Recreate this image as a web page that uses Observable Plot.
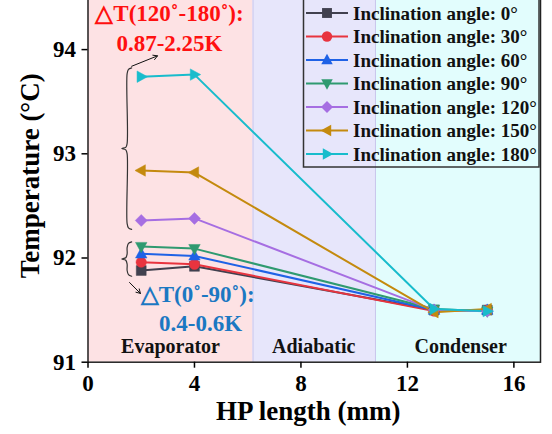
<!DOCTYPE html>
<html>
<head>
<meta charset="utf-8">
<script src="https://cdn.jsdelivr.net/npm/d3@7"></script>
<script src="https://cdn.jsdelivr.net/npm/@observablehq/plot@0.6"></script>
<style>
  html, body { margin: 0; padding: 0; background: #fff; }
  #chart svg { display: block; }
</style>
</head>
<body>
<div id="chart"></div>
<script>
// ---- data ----
const positions = [2, 4, 13, 15];
const angles = [0, 30, 60, 90, 120, 150, 180];
const temp0   = [91.88, 91.92, 91.50, 91.50];
const temp30  = [91.96, 91.94, 91.49, 91.50];
const temp60  = [92.04, 92.02, 91.50, 91.50];
const temp90  = [92.11, 92.09, 91.51, 91.49];
const temp120 = [92.36, 92.38, 91.50, 91.49];
const temp150 = [92.84, 92.82, 91.48, 91.51];
const temp180 = [93.74, 93.76, 91.51, 91.49];
const seriesValues = [temp0, temp30, temp60, temp90, temp120, temp150, temp180];
const seriesColors = ["#41414f", "#e8343f", "#1f62e6", "#2f9a70", "#a66ee2", "#c48a0e", "#18bccc"];
const seriesShapes = ["square", "circle", "up", "down", "diamond", "left", "right"];

const zoneNames = ["Evaporator", "Adiabatic", "Condenser"];
const zoneStart = [0, 6.2, 10.8];
const zoneEnd = [6.2, 10.8, 17];
const zoneFill = ["#fde2e4", "#e7e6fb", "#e2fdfd"];
const zoneLabelX = [3.1, 8.48, 14.0];

const xTicks = [0, 4, 8, 12, 16];
const yTicks = [91, 92, 93, 94];

// annotations (data units)
const noteRed = ["△T(120˚-180˚):", "0.87-2.25K"];
const noteRedX = [3.06, 3.06];
const noteRedY = [94.35, 94.06];
const noteBlue = ["△T(0˚-90˚):", "0.4-0.6K"];
const noteBlueX = [4.12, 4.23];
const noteBlueY = [91.645, 91.375];
const braceTop = [93.82, 92.15];
const braceBottom = [92.28, 91.83];
const arrowFrom = [[1.64, 93.84], [1.56, 91.765]];
const arrowTo = [[2.61, 93.94], [1.97, 91.66]];

// ---- symbols ----
function makeSymbol(kind) {
  return {
    draw(ctx, size) {
      const r = Math.sqrt(size / Math.PI);
      if (kind === "square") {
        const h = r * 0.95; ctx.rect(-h, -h, 2 * h, 2 * h);
      } else if (kind === "circle") {
        ctx.moveTo(r, 0); ctx.arc(0, 0, r, 0, 2 * Math.PI);
      } else if (kind === "diamond") {
        const h = r * 1.15;
        ctx.moveTo(0, -h); ctx.lineTo(h, 0); ctx.lineTo(0, h); ctx.lineTo(-h, 0); ctx.closePath();
      } else {
        const w = r * 1.1, hgt = r * 2.0;
        let pts = [[0, -hgt * 0.6], [w, hgt * 0.4], [-w, hgt * 0.4]]; // up
        const rot = { up: 0, down: Math.PI, left: -Math.PI / 2, right: Math.PI / 2 }[kind];
        pts = pts.map(([x, y]) => [x * Math.cos(rot) - y * Math.sin(rot), x * Math.sin(rot) + y * Math.cos(rot)]);
        ctx.moveTo(pts[0][0], pts[0][1]); ctx.lineTo(pts[1][0], pts[1][1]); ctx.lineTo(pts[2][0], pts[2][1]); ctx.closePath();
      }
    }
  };
}
const symbols = seriesShapes.map(makeSymbol);

// ---- tables ----
const zones = zoneNames.map((name, i) => ({name, x1: zoneStart[i], x2: zoneEnd[i], fill: zoneFill[i], lx: zoneLabelX[i]}));
const series = angles.map((a, i) => positions.map((x, j) => ({angle: a, x, y: seriesValues[i][j]})));

function bracePoints(x, y0, y1) {
  const spine = x, end = x + 0.17, tip = x - 0.2;
  const ym = (y0 + y1) / 2;
  const c = 0.05;
  const pts = [
    [end, y0 + 0.005], [spine + 0.05, y0 - 0.01], [spine, y0 - c],
    [spine, ym + c], [spine - 0.05, ym + 0.012], [tip, ym],
    [spine - 0.05, ym - 0.012], [spine, ym - c],
    [spine, y1 + c], [spine + 0.05, y1 + 0.01], [end, y1 - 0.005]
  ];
  return pts.map(([px, py]) => ({x: px, y: py}));
}
const braceX = 1.47;
const braces = braceTop.map((t, i) => bracePoints(braceX, t, braceBottom[i]));
const arrows = arrowFrom.map((f, i) => ({x1: f[0], y1: f[1], x2: arrowTo[i][0], y2: arrowTo[i][1]}));

const font = "'Liberation Serif', 'Times New Roman', serif";

const marks = [
  Plot.rect(zones, {x1: "x1", x2: "x2", y1: 91, y2: 94.5, fill: "fill"}),
  Plot.ruleX([6.2, 10.8], {stroke: "#c9c6ec", strokeWidth: 1}),
  ...braces.map(b => Plot.line(b, {x: "x", y: "y", stroke: "#333", strokeWidth: 1.2, curve: "catmull-rom"})),
  Plot.arrow(arrows, {x1: "x1", y1: "y1", x2: "x2", y2: "y2", stroke: "#111", strokeWidth: 1, headLength: 7, bend: 0}),
  ...series.map((s, i) => Plot.line(s, {x: "x", y: "y", stroke: seriesColors[i], strokeWidth: 2})),
  ...series.map((s, i) => Plot.dot(s, {x: "x", y: "y", r: 5.2, symbol: symbols[i], fill: seriesColors[i], stroke: seriesColors[i], strokeWidth: 0.5})),
  Plot.text(zones, {x: "lx", y: 91.15, text: "name", fontSize: 20, fontWeight: "bold", fill: "#111"}),
  Plot.text(noteRed, {x: (d, i) => noteRedX[i], y: (d, i) => noteRedY[i], text: d => d, fill: "#ff1010", fontSize: 23, fontWeight: "bold"}),
  Plot.text(noteBlue, {x: (d, i) => noteBlueX[i], y: (d, i) => noteBlueY[i], text: d => d, fill: "#1b78c2", fontSize: 23, fontWeight: "bold"}),
  Plot.frame({stroke: "#222", strokeWidth: 1.5}),
  Plot.axisX({ticks: xTicks, tickFormat: d => String(d), tickSize: 6, tickPadding: 6, label: null, fontSize: 23, fontWeight: "bold", strokeWidth: 1.5}),
  Plot.axisY({ticks: yTicks, tickFormat: d => String(d), tickSize: 6, tickPadding: 6, label: null, fontSize: 23, fontWeight: "bold", strokeWidth: 1.5}),
  Plot.text(["HP length (mm)"], {frameAnchor: "bottom", lineAnchor: "middle", textAnchor: "middle", dy: 49, dx: -6, text: d => d, fontSize: 27, fontWeight: "bold", fill: "#000"}),
  Plot.text(["Temperature (°C)"], {frameAnchor: "left", textAnchor: "middle", lineAnchor: "middle", dx: -58, dy: -4, rotate: -90, text: d => d, fontSize: 27, fontWeight: "bold", fill: "#000"})
];

const svg = Plot.plot({
  width: 552,
  height: 434,
  marginLeft: 87.5,
  marginRight: 12,
  marginTop: -3,
  marginBottom: 72.3,
  x: {domain: [0, 17]},
  y: {domain: [91, 94.5]},
  style: {fontFamily: font, color: "#000", background: "transparent", overflow: "hidden"},
  marks
});

// ---- legend ----
const root = d3.select(svg);
const leg = root.append("g").attr("font-family", font).attr("font-weight", "bold").attr("font-size", 19).attr("text-anchor", "start");
leg.append("rect").attr("x", 303.5).attr("y", -5).attr("width", 235.5).attr("height", 172)
  .attr("fill", "none").attr("stroke", "#333").attr("stroke-width", 1.5);
angles.forEach((a, i) => {
  const cy = 13 + i * 23.5;
  leg.append("line").attr("x1", 306).attr("x2", 348).attr("y1", cy).attr("y2", cy)
    .attr("stroke", seriesColors[i]).attr("stroke-width", 2);
  leg.append("path").attr("transform", `translate(327,${cy})`)
    .attr("d", d3.symbol(symbols[i], Math.PI * 5.2 * 5.2)())
    .attr("fill", seriesColors[i]);
  leg.append("text").attr("x", 353).attr("y", cy).attr("dy", "0.35em").attr("fill", "#111")
    .text(`Inclination angle: ${a}°`);
});

document.getElementById("chart").appendChild(svg);
</script>
</body>
</html>
